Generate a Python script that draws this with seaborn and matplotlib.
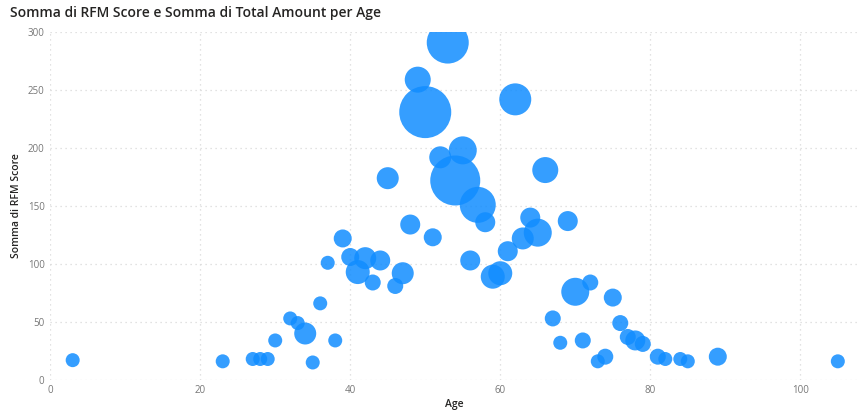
import matplotlib
matplotlib.use("Agg")
import matplotlib.pyplot as plt
import seaborn as sns
import pandas as pd

# Age groups with summed RFM score and summed total amount
ages = [3, 23, 27, 28, 29, 30, 32, 33, 34, 35, 36, 37, 38, 39, 40, 41, 42, 43, 44, 45,
        46, 47, 48, 49, 50, 51, 52, 53, 54, 55, 56, 57, 58, 59, 60, 61, 62, 63, 64, 65,
        66, 67, 68, 69, 70, 71, 72, 73, 74, 75, 76, 77, 78, 79, 81, 82, 84, 85, 89, 105]
rfm_score = [17, 16, 18, 18, 18, 34, 53, 49, 40, 15, 66, 101, 34, 122, 106, 93, 105, 84, 103, 174,
             81, 92, 134, 259, 231, 123, 192, 291, 172, 198, 103, 151, 136, 89, 92, 111, 242, 122, 140, 127,
             181, 53, 32, 137, 76, 34, 84, 16, 20, 71, 49, 37, 34, 31, 20, 18, 18, 16, 20, 16]
total_amount = [1960, 1960, 1960, 1960, 1960, 1960, 1960, 1960, 4840, 1960, 1960, 1960, 1960, 3240, 3240, 5760, 4840, 2560, 4000, 4840,
                2560, 4840, 4000, 6760, 27040, 3240, 4840, 17640, 25000, 7840, 4000, 12960, 4000, 5760, 5760, 4000, 10240, 4840, 4000, 7840,
                6760, 2560, 1960, 4000, 7840, 2560, 2560, 1960, 2560, 3240, 2560, 2560, 4000, 2560, 2560, 1960, 1960, 1960, 3240, 1960]

df = pd.DataFrame({"Age": ages, "Somma di RFM Score": rfm_score, "Total Amount": total_amount})

sns.set_theme(style="white")
plt.rcParams["font.family"] = ["Open Sans", "DejaVu Sans"]

fig = plt.figure(figsize=(8.65, 4.12), dpi=100)
ax = fig.add_axes([0.058, 0.078, 0.934, 0.844])

max_amount = max(total_amount)
px_to_pt = 0.72
max_area = (2 * 26 * px_to_pt) ** 2

sns.scatterplot(data=df, x="Age", y="Somma di RFM Score", size="Total Amount",
                sizes=(0, max_area), size_norm=(0, max_amount),
                color="#118DFF", alpha=0.85, edgecolor="none", linewidth=0,
                legend=False, ax=ax, zorder=3)

ax.set_xlim(0, 107.7)
ax.set_ylim(0, 300)
ax.set_xticks([0, 20, 40, 60, 80, 100])
ax.set_yticks([0, 50, 100, 150, 200, 250, 300])
ax.grid(True, color="#d9d9d9", linestyle=(0, (1, 3)), linewidth=0.9)
ax.set_axisbelow(True)
for s in ax.spines.values():
    s.set_visible(False)
ax.tick_params(axis="both", length=0, labelsize=7, labelcolor="#777777", pad=4)

ax.set_xlabel("Age", fontsize=7.5, color="#252423", fontweight="semibold", labelpad=2)
ax.set_ylabel("Somma di RFM Score", fontsize=7.5, color="#252423", fontweight="semibold", labelpad=4)

fig.text(0.011, 0.968, "Somma di RFM Score e Somma di Total Amount per Age",
         fontsize=10, color="#252423", fontweight="semibold", ha="left", va="center")

fig.savefig("out.png", dpi=100)
